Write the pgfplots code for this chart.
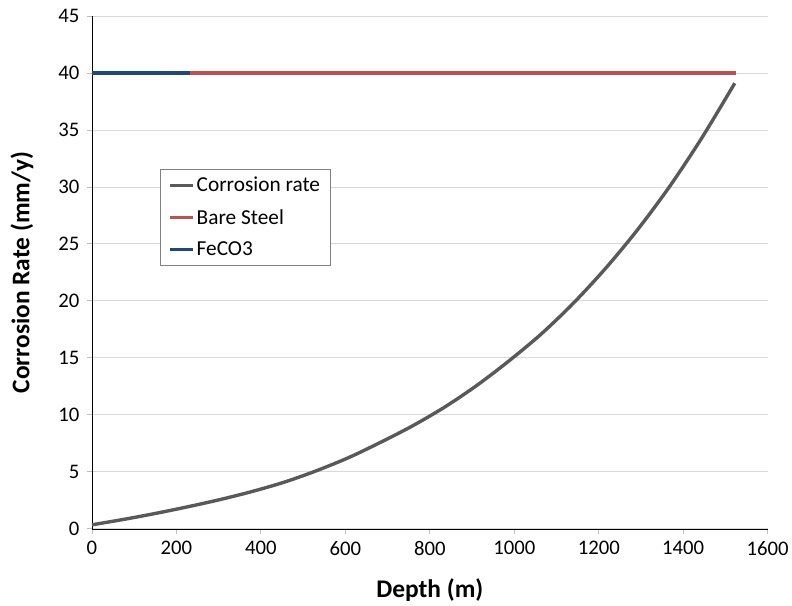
\documentclass[border=0pt]{standalone}
\usepackage{fontspec}
\setmainfont{Carlito}
\usepackage{pgfplots}
\pgfplotsset{compat=1.18}
\definecolor{curvegray}{HTML}{595959}
\definecolor{barered}{HTML}{C0504D}
\definecolor{fecoblue}{HTML}{1F497D}
\definecolor{gridgray}{HTML}{D9D9D9}
\definecolor{axgray}{HTML}{BFBFBF}

\begin{document}
\begin{tikzpicture}
\begin{axis}[
  scale only axis,
  width=676bp, height=513bp,
  xmin=0, xmax=1600, ymin=0, ymax=45,
  xtick={0,200,...,1600}, ytick={0,5,...,45},
  axis x line*=bottom, axis y line*=left,
  axis line style={axgray, line width=0.8bp},
  every outer x axis line/.style={-}, every outer y axis line/.style={-},
  ymajorgrids, grid style={gridgray, line width=0.8bp},
  tick style={axgray, line width=0.8bp},
  tick align=outside, major tick length=5bp,
  tick label style={font=\fontsize{20.8}{22}\selectfont, black},
  /pgf/number format/assume math mode=true,
  /pgf/number format/1000 sep={},
  xticklabel style={yshift=-4bp},
  yticklabel style={xshift=-4bp},
  xlabel={\textbf{Depth (m)}}, ylabel={\textbf{Corrosion Rate (mm/y)}},
  label style={font=\fontsize{25.5}{27}\selectfont},
  xlabel style={at={(axis description cs:0.5,-0.119)}, anchor=center},
  ylabel style={at={(axis description cs:-0.1036,0.5)}, anchor=center},
  legend style={at={(axis description cs:0.1006,0.702)}, anchor=north west,
    draw=gray, line width=0.8bp, font=\fontsize{21.4}{23}\selectfont,
    inner xsep=8bp, inner ysep=6bp, row sep=12bp, cells={anchor=west}},
  legend image code/.code={\draw[#1] (0bp,0bp) -- (23bp,0bp);},
]
\addplot[curvegray, line width=3.4bp, smooth] coordinates {
  (0,0.35) (76,0.83) (152,1.36) (228,1.94) (304,2.57) (380,3.28) (456,4.1)
  (532,5.1) (608,6.25) (684,7.6) (760,9.05) (836,10.7) (912,12.6) (988,14.75)
  (1064,17.1) (1140,19.8) (1216,22.85) (1292,26.25) (1368,30.05) (1444,34.3)
  (1522,39.1)};
\addlegendentry{Corrosion rate}
\addplot[barered, line width=3.4bp] coordinates {(232,40) (1524,40)};
\addlegendentry{Bare Steel}
\addplot[fecoblue, line width=3.4bp] coordinates {(0,40) (232,40)};
\addlegendentry{FeCO3}
\end{axis}
\path (current axis.south west) ++(-92bp,-77bp) coordinate (bbA);
\path (current axis.north east) ++(24bp,16bp) coordinate (bbB);
\path (bbA) rectangle (bbB);
\end{tikzpicture}
\end{document}
